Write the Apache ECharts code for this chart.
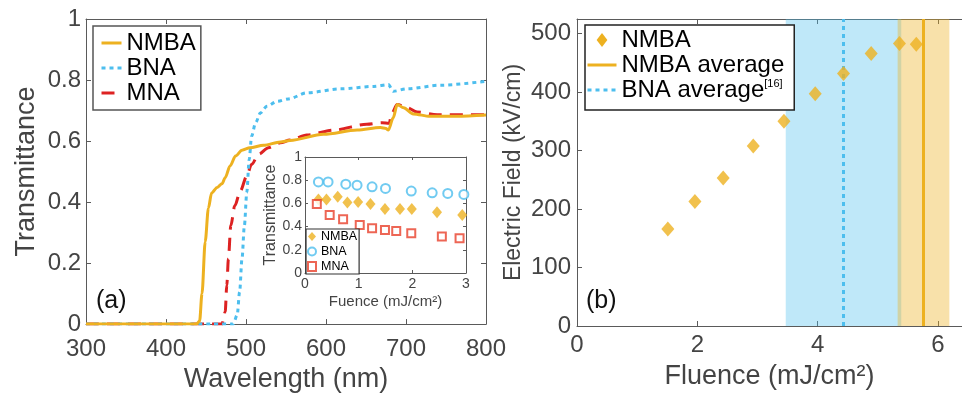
<!DOCTYPE html>
<html>
<head>
<meta charset="utf-8">
<script src="https://cdn.jsdelivr.net/npm/echarts@6/dist/echarts.min.js"></script>
<style>
  html, body { margin: 0; padding: 0; background: #fff; }
  #chart { width: 962px; height: 398px; }
</style>
</head>
<body>
<div id="chart"></div>
<script>
// (a) transmittance spectra
const nmbaWl = [300, 438, 442, 445, 449, 453, 457, 464, 470, 474, 480, 487, 495, 505, 522, 543, 555, 597, 639, 668, 675, 678, 684, 689, 697, 709, 730, 763, 800]
const nmbaT = [0, 0, 0.01, 0.1, 0.27, 0.38, 0.43, 0.448, 0.46, 0.48, 0.518, 0.551, 0.57, 0.578, 0.586, 0.597, 0.602, 0.622, 0.636, 0.644, 0.641, 0.636, 0.676, 0.72, 0.709, 0.689, 0.681, 0.681, 0.685]
const bnaWl = [300, 484, 489, 492, 495, 498, 501, 504, 507, 512, 518, 526, 539, 553, 576, 618, 660, 678, 684, 701, 743, 800]
const bnaT = [0, 0, 0.03, 0.105, 0.214, 0.323, 0.432, 0.54, 0.616, 0.66, 0.692, 0.714, 0.73, 0.738, 0.758, 0.771, 0.779, 0.785, 0.763, 0.771, 0.783, 0.796]
const mnaWl = [300, 470, 474, 476, 478, 481, 486, 493, 501, 507, 516, 528, 543, 555, 576, 610, 651, 670, 679, 682, 689, 701, 714, 739, 800]
const mnaT = [0, 0, 0.04, 0.127, 0.214, 0.323, 0.388, 0.437, 0.486, 0.524, 0.557, 0.578, 0.594, 0.603, 0.62, 0.636, 0.655, 0.66, 0.658, 0.69, 0.72, 0.71, 0.695, 0.686, 0.686]

// inset: transmittance vs fluence
const insetNmbaF = [0.25, 0.40, 0.61, 0.79, 0.99, 1.22, 1.49, 1.77, 1.99, 2.46, 2.93]
const insetNmbaT = [0.634, 0.634, 0.657, 0.608, 0.611, 0.594, 0.551, 0.551, 0.551, 0.523, 0.50]
const insetBnaF = [0.25, 0.43, 0.76, 0.97, 1.25, 1.50, 1.98, 2.37, 2.66, 2.96]
const insetBnaT = [0.785, 0.785, 0.766, 0.757, 0.743, 0.729, 0.706, 0.691, 0.686, 0.677]
const insetMnaF = [0.22, 0.46, 0.71, 1.02, 1.25, 1.49, 1.70, 1.98, 2.55, 2.88]
const insetMnaT = [0.594, 0.50, 0.463, 0.414, 0.386, 0.371, 0.362, 0.343, 0.314, 0.30]

// (b) electric field vs fluence
const fieldFluence = [1.51, 1.96, 2.43, 2.93, 3.44, 3.96, 4.43, 4.89, 5.36, 5.64]
const fieldValues = [166, 213, 253, 308, 350, 397, 432, 466, 483, 482]
const nmbaAverage = 5.76
const nmbaSpread = 0.43
const bnaAverage = 4.43
const bnaSpread = 0.96

const FONT = 'Liberation Sans, Arial, Helvetica, sans-serif'
const ORANGE = '#edb120'
const BLUE = '#4dbeee'
const RED = '#dd2222'
const axisGray = '#5a5a5a'
const labelGray = '#444'
const fieldMax = 525

function pairs(xs, ys) {
  return xs.map((x, i) => [x, ys[i]])
}

function valueAxis(gridIndex, position, min, max, interval, opts) {
  opts = opts || {}
  const fontSize = opts.fontSize || 24
  return {
    type: 'value',
    gridIndex: gridIndex,
    position: position,
    min: min,
    max: max,
    interval: interval,
    axisLine: { show: true, onZero: false, lineStyle: { color: axisGray, width: 1 } },
    axisTick: { show: true, inside: true, length: opts.tickLen || 5, lineStyle: { color: axisGray } },
    splitLine: { show: false },
    axisLabel: {
      show: !!opts.labels,
      fontSize: fontSize,
      color: labelGray,
      fontFamily: FONT,
      margin: opts.margin == null ? 8 : opts.margin,
      showMaxLabel: opts.hideMax ? false : null,
    },
    name: opts.name || '',
    nameLocation: 'middle',
    nameGap: opts.nameGap || 0,
    nameTextStyle: { fontSize: opts.nameSize || 27, color: labelGray, fontFamily: FONT },
  }
}

const chart = echarts.init(document.getElementById('chart'), null, { renderer: 'canvas' })

chart.setOption({
  animation: false,
  backgroundColor: '#fff',
  grid: [
    { left: 86, top: 19, width: 400, height: 307 },
    { left: 305, top: 157, width: 161, height: 116, show: true, backgroundColor: '#fff', borderWidth: 0 },
    { left: 577, top: 19, width: 389, height: 307 },
  ],
  xAxis: [
    valueAxis(0, 'bottom', 300, 800, 100, { labels: true, margin: 13, name: 'Wavelength (nm)', nameGap: 38 }),
    valueAxis(0, 'top', 300, 800, 100),
    valueAxis(1, 'bottom', 0, 3, 1, { labels: true, fontSize: 14, margin: 4, tickLen: 3, name: 'Fuence (mJ/cm²)', nameSize: 15, nameGap: 21 }),
    valueAxis(1, 'top', 0, 3, 1, { tickLen: 3 }),
    valueAxis(2, 'bottom', 0, 6.4, 2, { labels: true, margin: 7, hideMax: true, name: 'Fluence (mJ/cm²)', nameGap: 37 }),
    valueAxis(2, 'top', 0, 6.4, 2),
  ],
  yAxis: [
    valueAxis(0, 'left', 0, 1, 0.2, { labels: true, margin: 5, name: 'Transmittance', nameGap: 46 }),
    valueAxis(0, 'right', 0, 1, 0.2),
    valueAxis(1, 'left', 0, 1, 0.2, { labels: true, fontSize: 14, margin: 3, tickLen: 3, name: 'Transmittance', nameSize: 16, nameGap: 24 }),
    valueAxis(1, 'right', 0, 1, 0.2, { tickLen: 3 }),
    valueAxis(2, 'left', 0, fieldMax, 100, { labels: true, margin: 6, hideMax: true, name: 'Electric Field (kV/cm)', nameSize: 23, nameGap: 52 }),
  ],
  legend: [
    {
      data: ['NMBA', 'BNA', 'MNA'],
      orient: 'vertical',
      left: 93,
      top: 26,
      itemWidth: 20,
      itemHeight: 14,
      itemGap: 1,
      padding: [5, 5, 5, 7],
      selectedMode: false,
      backgroundColor: '#fff',
      borderColor: '#555',
      borderWidth: 1.5,
      borderRadius: 0,
      itemStyle: { opacity: 0 },
      lineStyle: { width: 3 },
      textStyle: { fontSize: 24, lineHeight: 24, color: '#000', fontFamily: FONT },
    },
    {
      data: [
        { name: 'NMBA|b', icon: 'path://M5,0 L10,6.5 L5,13 L0,6.5 Z', itemStyle: { opacity: 1 } },
        'NMBA average',
        'BNA average',
      ],
      orient: 'vertical',
      left: 585,
      top: 25,
      itemWidth: 29,
      itemHeight: 14,
      itemGap: 1,
      padding: [3, 10, 8, 1],
      selectedMode: false,
      backgroundColor: '#fff',
      borderColor: '#222',
      borderWidth: 1.5,
      itemStyle: { opacity: 0 },
      lineStyle: { width: 3 },
      formatter: (name) => name === 'BNA average' ? '{t|BNA average}{s|[16]}' : '{t|' + name.replace(/\|.*$/, '') + '}',
      textStyle: {
        fontFamily: FONT,
        color: '#000',
        rich: {
          t: { fontSize: 24, lineHeight: 24, color: '#000', fontFamily: FONT },
          s: { fontSize: 11, lineHeight: 11, verticalAlign: 'top', color: '#000', fontFamily: FONT },
        },
      },
    },
    {
      data: ['NMBA|inset', 'BNA|inset', 'MNA|inset'],
      orient: 'vertical',
      left: 306,
      top: 229,
      itemWidth: 8,
      itemHeight: 9,
      itemGap: 2,
      padding: [1, 2, 1, 1],
      selectedMode: false,
      backgroundColor: '#fff',
      borderColor: '#333',
      borderWidth: 1.2,
      formatter: (name) => name.replace(/\|.*$/, ''),
      textStyle: { fontSize: 12.5, lineHeight: 12, color: '#000', fontFamily: FONT },
    },
  ],
  graphic: [
    { type: 'text', left: 96, top: 289, z: 10, style: { text: '(a)', fontSize: 25, fontFamily: FONT, fill: '#111' } },
    { type: 'text', left: 586, top: 289, z: 10, style: { text: '(b)', fontSize: 25, fontFamily: FONT, fill: '#111' } },
  ],
  series: [
    {
      name: 'MNA',
      type: 'line',
      xAxisIndex: 0,
      yAxisIndex: 0,
      symbol: 'none',
      smooth: 0.3,
      smoothMonotone: 'x',
      data: pairs(mnaWl, mnaT),
      lineStyle: { color: RED, width: 3, type: [13, 8] },
      itemStyle: { color: RED },
    },
    {
      name: 'BNA',
      type: 'line',
      xAxisIndex: 0,
      yAxisIndex: 0,
      symbol: 'none',
      smooth: 0.3,
      smoothMonotone: 'x',
      data: pairs(bnaWl, bnaT),
      lineStyle: { color: BLUE, width: 3, type: [4, 4] },
      itemStyle: { color: BLUE },
    },
    {
      name: 'NMBA',
      type: 'line',
      xAxisIndex: 0,
      yAxisIndex: 0,
      symbol: 'none',
      smooth: 0.3,
      smoothMonotone: 'x',
      data: pairs(nmbaWl, nmbaT),
      lineStyle: { color: ORANGE, width: 3 },
      itemStyle: { color: ORANGE },
    },
    {
      name: 'NMBA|inset',
      type: 'scatter',
      xAxisIndex: 2,
      yAxisIndex: 2,
      symbol: 'diamond',
      symbolSize: [10, 12],
      data: pairs(insetNmbaF, insetNmbaT),
      itemStyle: { color: ORANGE },
    },
    {
      name: 'BNA|inset',
      type: 'scatter',
      xAxisIndex: 2,
      yAxisIndex: 2,
      symbol: 'emptyCircle',
      symbolSize: 9,
      data: pairs(insetBnaF, insetBnaT),
      itemStyle: { color: BLUE, borderWidth: 1.5 },
    },
    {
      name: 'MNA|inset',
      type: 'scatter',
      xAxisIndex: 2,
      yAxisIndex: 2,
      symbol: 'emptyRect',
      symbolSize: 8,
      data: pairs(insetMnaF, insetMnaT),
      itemStyle: { color: '#e8402a', borderWidth: 1.3 },
    },
    {
      name: 'bands',
      type: 'line',
      xAxisIndex: 4,
      yAxisIndex: 4,
      z: 1,
      data: [],
      markArea: {
        silent: true,
        data: [
          [{ xAxis: bnaAverage - bnaSpread, itemStyle: { color: 'rgba(77,190,238,0.36)' } }, { xAxis: bnaAverage + bnaSpread }],
          [{ xAxis: nmbaAverage - nmbaSpread, itemStyle: { color: 'rgba(237,177,32,0.38)' } }, { xAxis: nmbaAverage + nmbaSpread }],
        ],
      },
    },
    {
      name: 'NMBA average',
      type: 'line',
      xAxisIndex: 4,
      yAxisIndex: 4,
      z: 3,
      symbol: 'none',
      data: [[nmbaAverage, 0], [nmbaAverage, fieldMax]],
      lineStyle: { color: ORANGE, width: 3 },
      itemStyle: { color: ORANGE },
    },
    {
      name: 'BNA average',
      type: 'line',
      xAxisIndex: 4,
      yAxisIndex: 4,
      z: 3,
      symbol: 'none',
      data: [[bnaAverage, 0], [bnaAverage, fieldMax]],
      lineStyle: { color: BLUE, width: 3, type: [4, 4] },
      itemStyle: { color: BLUE },
    },
    {
      name: 'NMBA|b',
      type: 'scatter',
      xAxisIndex: 4,
      yAxisIndex: 4,
      z: 4,
      symbol: 'diamond',
      symbolSize: [13, 15],
      data: pairs(fieldFluence, fieldValues),
      itemStyle: { color: ORANGE },
    },
  ],
})
</script>
</body>
</html>
